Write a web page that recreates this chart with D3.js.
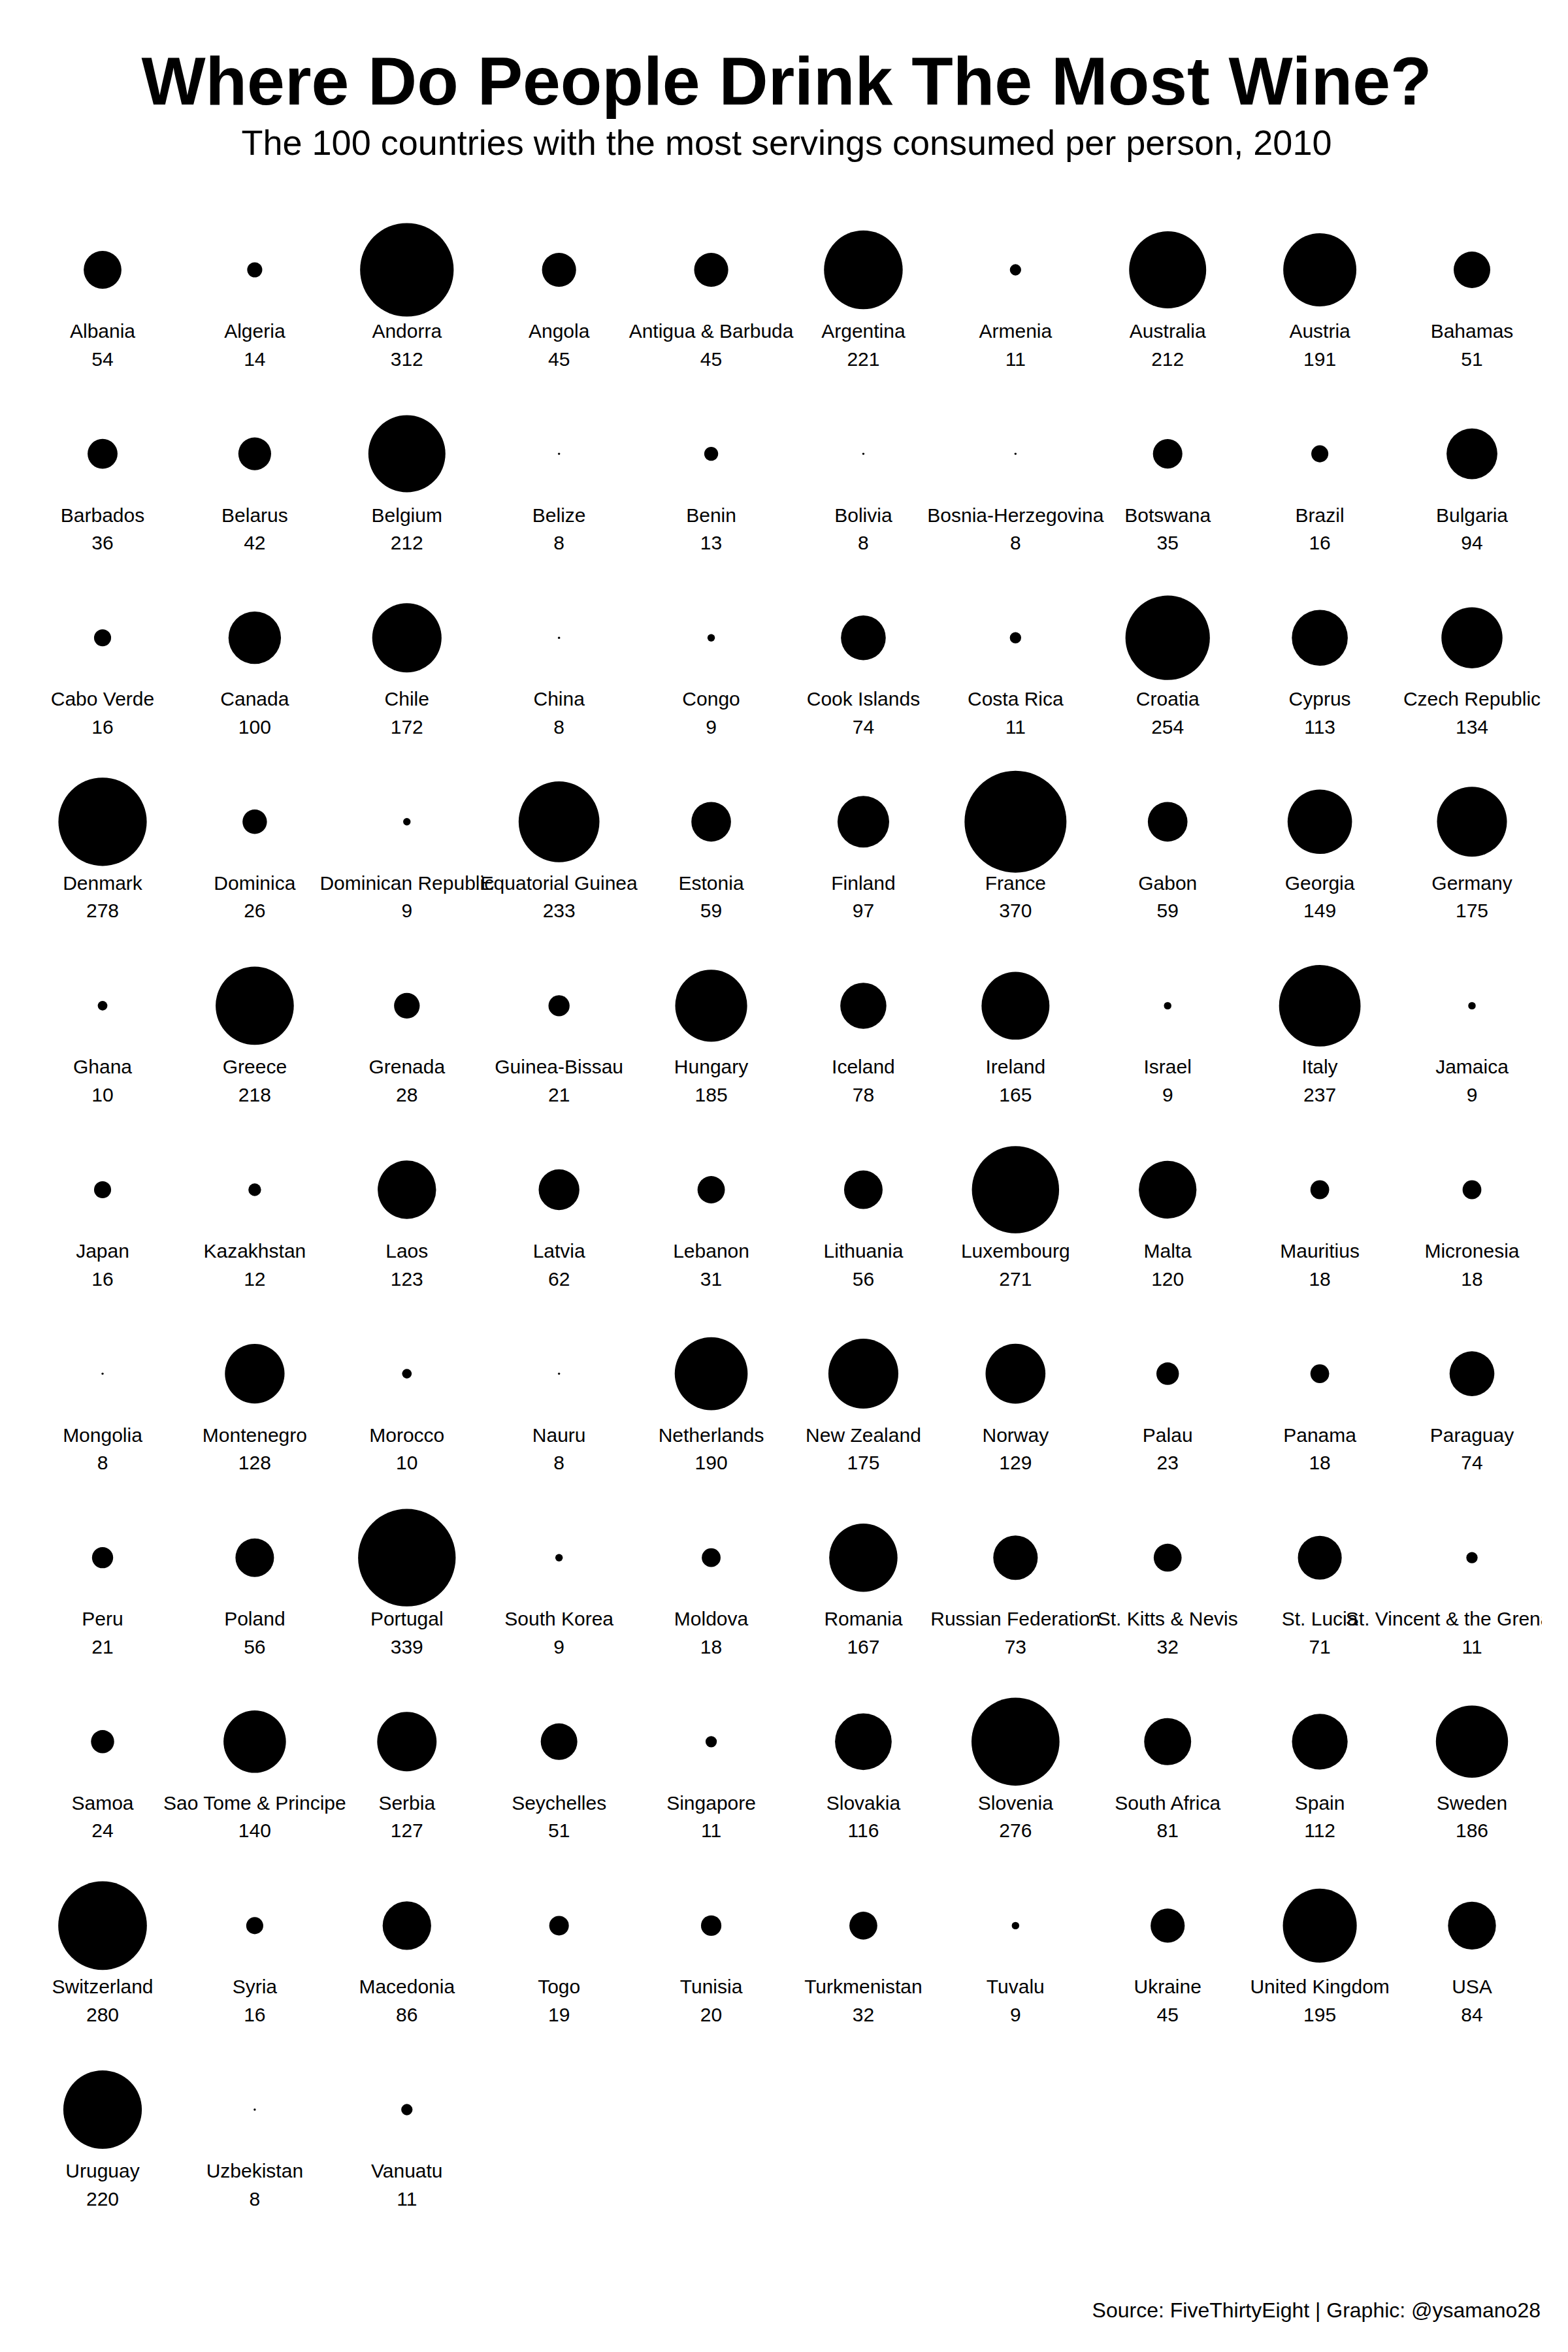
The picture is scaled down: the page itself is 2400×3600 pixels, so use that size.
<!DOCTYPE html>
<html>
<head>
<meta charset="utf-8">
<script src="https://cdn.jsdelivr.net/npm/d3@7"></script>
<style>
  html, body { margin: 0; padding: 0; background: #ffffff; }
  svg { display: block; }
  text { font-family: "Liberation Sans", Arial, Helvetica, sans-serif; fill: #000; }
</style>
</head>
<body>
<div id="chart"></div>
<script>
const countries = [
  "Albania","Algeria","Andorra","Angola","Antigua & Barbuda","Argentina","Armenia","Australia","Austria","Bahamas",
  "Barbados","Belarus","Belgium","Belize","Benin","Bolivia","Bosnia-Herzegovina","Botswana","Brazil","Bulgaria",
  "Cabo Verde","Canada","Chile","China","Congo","Cook Islands","Costa Rica","Croatia","Cyprus","Czech Republic",
  "Denmark","Dominica","Dominican Republic","Equatorial Guinea","Estonia","Finland","France","Gabon","Georgia","Germany",
  "Ghana","Greece","Grenada","Guinea-Bissau","Hungary","Iceland","Ireland","Israel","Italy","Jamaica",
  "Japan","Kazakhstan","Laos","Latvia","Lebanon","Lithuania","Luxembourg","Malta","Mauritius","Micronesia",
  "Mongolia","Montenegro","Morocco","Nauru","Netherlands","New Zealand","Norway","Palau","Panama","Paraguay",
  "Peru","Poland","Portugal","South Korea","Moldova","Romania","Russian Federation","St. Kitts & Nevis","St. Lucia","St. Vincent & the Grenadines",
  "Samoa","Sao Tome & Principe","Serbia","Seychelles","Singapore","Slovakia","Slovenia","South Africa","Spain","Sweden",
  "Switzerland","Syria","Macedonia","Togo","Tunisia","Turkmenistan","Tuvalu","Ukraine","United Kingdom","USA",
  "Uruguay","Uzbekistan","Vanuatu"
];
const servings = [
  54,14,312,45,45,221,11,212,191,51,
  36,42,212,8,13,8,8,35,16,94,
  16,100,172,8,9,74,11,254,113,134,
  278,26,9,233,59,97,370,59,149,175,
  10,218,28,21,185,78,165,9,237,9,
  16,12,123,62,31,56,271,120,18,18,
  8,128,10,8,190,175,129,23,18,74,
  21,56,339,9,18,167,73,32,71,11,
  24,140,127,51,11,116,276,81,112,186,
  280,16,86,19,20,32,9,45,195,84,
  220,8,11
];
const titleText = "Where Do People Drink The Most Wine?";
const subtitleText = "The 100 countries with the most servings consumed per person, 2010";
const captionText = "Source: FiveThirtyEight | Graphic: @ysamano28";

const W = 2400, H = 3600, nCols = 10;
const data = countries.map((c, i) => ({ country: c, value: servings[i], col: i % nCols, row: Math.floor(i / nCols) }));
const nRows = Math.ceil(data.length / nCols);

const svg = d3.select("#chart").append("svg").attr("width", W).attr("height", H);
svg.append("rect").attr("width", W).attr("height", H).attr("fill", "#fff");

const x = d3.scaleLinear().domain([0, nCols - 1]).range([157, 2253]);
const y = d3.scaleLinear().domain([0, nRows - 1]).range([413, 3229]);
const norm = d3.scaleLinear().domain(d3.extent(servings)).range([0, 1]);
const r = d3.scaleSqrt().domain([0, 1]).range([1.7, 78]);

svg.append("defs").append("clipPath").attr("id", "panel")
  .append("rect").attr("x", 0).attr("y", 300).attr("width", 2360).attr("height", 3100);

svg.append("text").attr("x", 1204).attr("y", 160).attr("text-anchor", "middle")
  .attr("font-size", 104).attr("font-weight", "bold").text(titleText);
svg.append("text").attr("x", 1204).attr("y", 237).attr("text-anchor", "middle")
  .attr("font-size", 54).text(subtitleText);

const g = svg.append("g").attr("clip-path", "url(#panel)");

g.selectAll("circle").data(data).join("circle")
  .attr("cx", d => x(d.col)).attr("cy", d => y(d.row))
  .attr("r", d => r(norm(d.value))).attr("fill", "#000");

g.selectAll("text.name").data(data).join("text").attr("class", "name")
  .attr("x", d => x(d.col)).attr("y", d => y(d.row) + 104)
  .attr("text-anchor", "middle").attr("font-size", 30).text(d => d.country);

g.selectAll("text.val").data(data).join("text").attr("class", "val")
  .attr("x", d => x(d.col)).attr("y", d => y(d.row) + 146.5)
  .attr("text-anchor", "middle").attr("font-size", 30).text(d => d.value);

svg.append("text").attr("x", 2358).attr("y", 3547).attr("text-anchor", "end")
  .attr("font-size", 32).text(captionText);
</script>
</body>
</html>
